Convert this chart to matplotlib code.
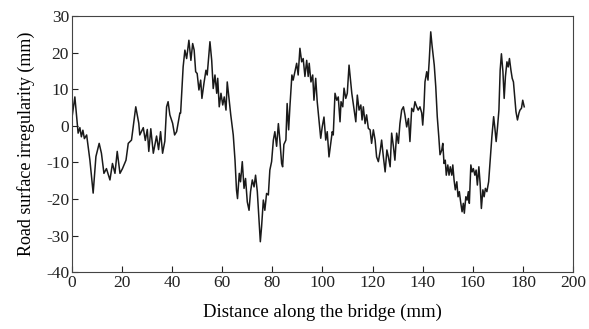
import matplotlib
matplotlib.use('Agg')
import matplotlib.pyplot as plt
import numpy as np

# profil nierownosci (x w mm, y w mm)
dist = [0.0, 0.3, 1.2, 2.5, 3.2, 3.8, 4.4, 5.0, 5.9, 7.2, 8.5, 9.6, 10.9, 11.8,
        12.8, 13.8, 15.2, 16.2, 17.2, 18.1, 19.2, 20.2, 21.6, 22.5, 23.8, 25.5,
        26.7, 27.1, 28.5, 29.3, 30.1, 30.7, 31.5, 32.5, 33.8, 34.6, 35.4, 36.2,
        37.1, 37.8, 38.4, 39.1, 40.2, 41.0, 41.8, 43.1, 43.4, 44.4, 45.1, 45.8,
        46.7, 47.5, 48.2, 48.8, 49.4, 50.0, 50.7, 51.4, 51.9, 52.7, 53.5, 54.0,
        55.1, 55.8, 56.4, 57.1, 57.8, 58.2, 58.8, 59.5, 60.2, 60.8, 61.5, 62.0,
        62.8, 63.4, 64.4, 65.1, 65.7, 66.1, 66.8, 67.3, 68.0, 68.7, 69.3, 70.0,
        70.7, 71.3, 72.0, 72.7, 73.3, 74.0, 74.7, 75.2, 75.7, 76.4, 77.0, 77.7,
        78.4, 79.0, 79.7, 80.4, 81.0, 81.7, 82.4, 83.0, 83.7, 84.1, 84.6, 85.4,
        85.9, 86.5, 87.0, 87.8, 88.3, 89.0, 89.7, 90.3, 91.0, 91.7, 92.3, 93.0,
        93.7, 94.3, 94.7, 95.4, 96.1, 96.6, 97.3, 97.9, 98.6, 99.3, 99.9, 100.6,
        101.3, 101.9, 102.6, 103.3, 103.9, 104.3, 105.0, 105.7, 106.3, 107.0,
        107.4, 108.1, 108.6, 109.3, 109.9, 110.6, 111.3, 111.7, 112.1, 112.7,
        113.3, 113.9, 114.6, 115.3, 115.8, 116.3, 117.0, 117.6, 118.3, 119.0,
        119.6, 120.3, 121.0, 121.6, 122.3, 123.0, 123.6, 124.3, 125.0, 125.7,
        126.3, 127.0, 127.6, 128.3, 128.9, 129.6, 130.3, 130.9, 131.6, 132.3,
        132.9, 133.6, 134.3, 134.9, 135.6, 136.3, 136.9, 137.6, 138.2, 138.9,
        139.6, 140.0, 140.5, 140.9, 141.6, 142.1, 142.6, 143.2, 143.7, 144.3,
        144.6, 145.2, 145.8, 146.4, 146.9, 147.6, 148.0, 148.5, 149.0, 149.4,
        150.0, 150.5, 151.0, 151.6, 152.0, 152.5, 153.0, 153.6, 154.1, 154.6,
        155.2, 155.7, 156.2, 156.6, 157.2, 157.7, 158.2, 158.6, 159.2, 159.7,
        160.2, 160.8, 161.3, 161.8, 162.4, 162.9, 163.4, 164.0, 164.5, 165.0,
        165.6, 166.3, 166.9, 167.6, 168.3, 168.8, 169.3, 169.8, 170.4, 170.9,
        171.4, 172.0, 172.5, 173.0, 173.6, 174.1, 174.6, 175.2, 175.7, 176.2,
        176.8, 177.2, 177.8, 178.4, 178.8, 179.4, 179.9, 180.5]
irregularity = [2.0, 3.5, 7.9, -2.0, -0.5, -3.0, -1.2, -3.5, -2.5, -9.4, -18.4,
                -8.4, -4.8, -7.5, -13.0, -11.7, -14.8, -10.3, -13.0, -7.0, -13.0,
                -11.7, -9.4, -4.8, -3.9, 5.2, 0.7, -2.5, -0.5, -4.0, -1.0, -7.0,
                -0.8, -7.5, -2.8, -6.5, -1.6, -7.5, -4.2, 5.2, 6.6, 3.0, 0.7, -2.5,
                -1.6, 3.5, 3.5, 16.1, 20.7, 18.4, 23.4, 17.9, 22.5, 20.7, 14.8,
                14.3, 9.8, 12.5, 7.5, 11.6, 15.2, 13.9, 23.0, 17.9, 10.2, 13.9,
                8.9, 13.0, 5.2, 8.9, 5.7, 7.9, 4.3, 12.0, 7.0, 3.0, -2.5, -9.4,
                -17.6, -19.9, -13.0, -15.3, -9.8, -17.1, -14.4, -20.8, -23.1,
                -18.0, -14.8, -16.7, -13.5, -18.0, -25.8, -31.7, -27.6, -20.3,
                -23.1, -18.5, -18.9, -12.1, -9.8, -3.9, -1.6, -5.6, 0.6, -3.9,
                -10.3, -11.2, -5.1, -3.9, 6.1, -1.1, 5.2, 13.9, 12.5, 14.8, 17.1,
                13.9, 21.2, 17.5, 18.4, 13.5, 17.9, 13.5, 17.1, 12.0, 13.9, 7.0,
                13.0, 6.6, 1.6, -3.4, -0.3, 2.4, -3.9, -1.6, -8.5, -4.8, -1.6,
                -2.5, 8.9, 7.0, 7.9, 1.1, 6.6, 5.2, 10.3, 7.5, 8.9, 16.6, 11.6,
                8.9, 7.0, 4.3, 1.1, 8.4, 4.3, 5.7, 1.6, 5.2, 0.6, 3.0, -0.7, -1.1,
                -4.8, -1.1, -3.9, -8.5, -9.8, -7.0, -3.9, -8.5, -12.6, -6.6, -8.5,
                -11.2, -2.0, -5.6, -9.4, -2.0, -4.8, 0.6, 4.3, 5.2, 3.0, -0.3, 2.0,
                -4.3, 4.8, 3.9, 6.6, 5.2, 4.3, 5.2, 3.5, 0.2, 5.2, 12.0, 14.8,
                12.5, 17.9, 25.7, 22.1, 18.4, 16.6, 10.7, 2.5, -2.9, -7.9, -6.6,
                -4.8, -10.3, -9.4, -13.5, -10.7, -13.5, -11.2, -13.5, -10.7,
                -14.8, -17.5, -15.3, -19.4, -18.0, -21.2, -23.5, -21.2, -23.9,
                -19.4, -20.3, -18.0, -21.2, -10.7, -12.6, -11.7, -13.5, -12.1,
                -16.2, -11.2, -15.7, -22.6, -17.5, -19.4, -17.1, -18.0, -15.3,
                -9.4, -2.9, 2.5, -0.7, -4.3, -0.7, 4.3, 15.2, 19.7, 14.8, 7.5,
                13.5, 17.5, 16.1, 18.4, 15.2, 13.0, 12.0, 7.0, 3.9, 1.6, 3.5, 4.3,
                4.8, 7.0, 5.2]

plt.rcParams['font.family'] = ['Liberation Serif', 'DejaVu Serif']
plt.rcParams['axes.unicode_minus'] = False

fig = plt.figure(figsize=(5.89, 3.29), dpi=100)
ax = fig.add_axes([0.122, 0.173, 0.851, 0.778])
ax.plot(dist, irregularity, color='#1a1a1a', linewidth=1.1)

ax.set_xlim(0, 200)
ax.set_ylim(-40, 30)
ax.set_xticks(np.arange(0, 201, 20))
ax.set_yticks(np.arange(-40, 31, 10))
ax.tick_params(direction='in', length=4, width=0.8, labelsize=12.5,
               colors='#222222', pad=2)
for s in ax.spines.values():
    s.set_color('#444444')
    s.set_linewidth(0.8)

ax.set_xlabel('Distance along the bridge (mm)', fontsize=13.5, labelpad=9)
ax.set_ylabel('Road surface irregularity (mm)', fontsize=13, labelpad=8)

fig.savefig('out.png', dpi=100)
